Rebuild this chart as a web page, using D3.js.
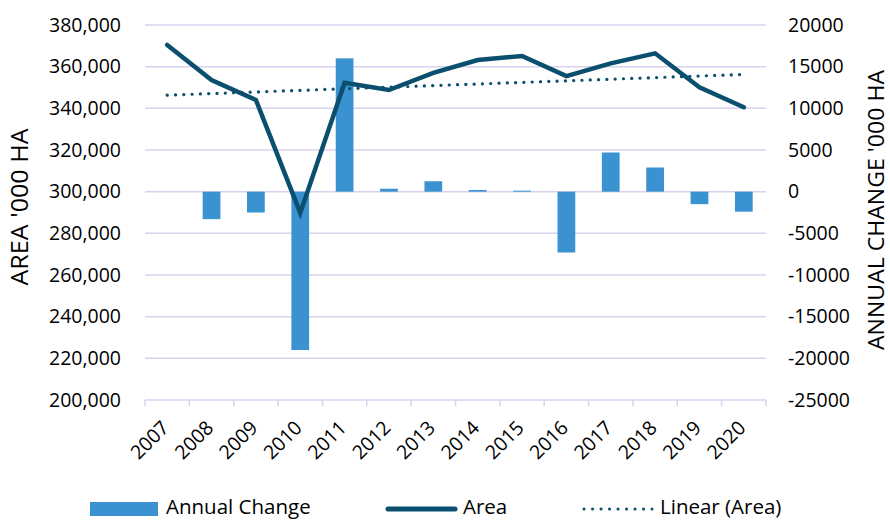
<!DOCTYPE html>
<html>
<head>
<meta charset="utf-8">
<script src="https://cdn.jsdelivr.net/npm/d3@7"></script>
<style>
  body { margin: 0; background: #fff; }
  svg text { font-family: "Open Sans", "Noto Sans", sans-serif; fill: #000; }
</style>
</head>
<body>
<svg id="chart" width="890" height="520"></svg>
<script>
var years = ["2007","2008","2009","2010","2011","2012","2013","2014","2015","2016","2017","2018","2019","2020"]
var area = [370400, 353600, 344000, 289800, 352300, 348800, 357000, 363200, 365100, 355500, 361600, 366400, 350100, 340500]
var annualChange = [null, -3300, -2500, -19000, 16000, 350, 1250, 200, 120, -7300, 4700, 2900, -1500, -2400]
var leftTicks = [200000, 220000, 240000, 260000, 280000, 300000, 320000, 340000, 360000, 380000]
var rightTicks = [-25000, -20000, -15000, -10000, -5000, 0, 5000, 10000, 15000, 20000]

var width = 890, height = 520
var margin = {left: 145, right: 124, top: 25, bottom: 120}
var gridColor = "#d8d2ee", barColor = "#3a93d0", lineColor = "#0b4f6e"

var svg = d3.select("#chart")

var x = d3.scaleBand().domain(years)
    .range([margin.left, width - margin.right]).paddingInner(0.6).paddingOuter(0.3)
var xc = d => x(d) + x.bandwidth() / 2
var yL = d3.scaleLinear().domain([200000, 380000]).range([height - margin.bottom, margin.top])
var yR = d3.scaleLinear().domain([-25000, 20000]).range([height - margin.bottom, margin.top])

// gridlines
svg.append("g").selectAll("line").data(leftTicks).enter().append("line")
    .attr("x1", margin.left).attr("x2", width - margin.right)
    .attr("y1", d => yL(d)).attr("y2", d => yL(d))
    .attr("stroke", gridColor).attr("stroke-width", 1.5)

// bottom ticks at category boundaries
var step = (width - margin.right - margin.left) / years.length
var bounds = d3.range(years.length + 1).map(i => margin.left + i * step)
svg.append("g").selectAll("line").data(bounds).enter().append("line")
    .attr("x1", d => d).attr("x2", d => d)
    .attr("y1", yL(200000)).attr("y2", yL(200000) + 6)
    .attr("stroke", gridColor).attr("stroke-width", 1.5)

// left axis labels
var fmt = d3.format(",")
svg.append("g").selectAll("text").data(leftTicks).enter().append("text")
    .attr("x", 121).attr("y", d => yL(d)).attr("dy", "0.35em")
    .attr("text-anchor", "end").attr("font-size", 19.5)
    .text(d => fmt(d))

// right axis labels
svg.append("g").selectAll("text").data(rightTicks).enter().append("text")
    .attr("x", 788).attr("y", d => yR(d)).attr("dy", "0.35em")
    .attr("text-anchor", "start").attr("font-size", 19.5)
    .text(d => d)

// axis titles
svg.append("text")
    .attr("transform", `translate(${28},${207}) rotate(-90)`)
    .attr("text-anchor", "middle").attr("font-size", 23)
    .attr("textLength", 157).attr("lengthAdjust", "spacingAndGlyphs")
    .text("AREA '000 HA")
svg.append("text")
    .attr("transform", `translate(${884},${210}) rotate(-90)`)
    .attr("text-anchor", "middle").attr("font-size", 22)
    .attr("textLength", 280).attr("lengthAdjust", "spacingAndGlyphs")
    .text("ANNUAL CHANGE '000 HA")

// x labels
svg.append("g").selectAll("text").data(years).enter().append("text")
    .attr("transform", d => `translate(${xc(d) + 3},${yL(200000) + 29}) rotate(-45)`)
    .attr("text-anchor", "end").attr("font-size", 19.5)
    .text(d => d)

// bars
var barData = years.map((y, i) => ({year: y, v: annualChange[i]})).filter(d => d.v !== null)
svg.append("g").selectAll("rect").data(barData).enter().append("rect")
    .attr("x", d => x(d.year)).attr("width", x.bandwidth())
    .attr("y", d => yR(Math.max(0, d.v)))
    .attr("height", d => Math.abs(yR(d.v) - yR(0)))
    .attr("fill", barColor)

// linear trend of area (least squares)
var idx = d3.range(years.length)
var mx = d3.mean(idx), my = d3.mean(area)
var slope = d3.sum(idx, i => (i - mx) * (area[i] - my)) / d3.sum(idx, i => (i - mx) * (i - mx))
var trend = idx.map(i => my + slope * (i - mx))

svg.append("path")
    .datum(trend)
    .attr("d", d3.line().x((d, i) => xc(years[i])).y(d => yL(d)))
    .attr("fill", "none").attr("stroke", lineColor).attr("stroke-width", 3.2)
    .attr("stroke-linecap", "round").attr("stroke-dasharray", "0.1 8.2")

// area line
svg.append("path")
    .datum(area)
    .attr("d", d3.line().x((d, i) => xc(years[i])).y(d => yL(d)))
    .attr("fill", "none").attr("stroke", lineColor).attr("stroke-width", 4.5)
    .attr("stroke-linejoin", "miter").attr("stroke-linecap", "round")

// legend
var lg = svg.append("g")
lg.append("rect").attr("x", 90).attr("y", 502).attr("width", 68).attr("height", 14).attr("fill", barColor)
lg.append("text").attr("x", 166).attr("y", 514).attr("font-size", 20.5).text("Annual Change")
lg.append("line").attr("x1", 388).attr("x2", 455).attr("y1", 509).attr("y2", 509)
    .attr("stroke", lineColor).attr("stroke-width", 5).attr("stroke-linecap", "round")
lg.append("text").attr("x", 463).attr("y", 514).attr("font-size", 20.5).text("Area")
lg.append("line").attr("x1", 584).attr("x2", 652).attr("y1", 509).attr("y2", 509)
    .attr("stroke", lineColor).attr("stroke-width", 3).attr("stroke-linecap", "round")
    .attr("stroke-dasharray", "0.1 8.4")
lg.append("text").attr("x", 660).attr("y", 514).attr("font-size", 20.5).text("Linear (Area)")
</script>
</body>
</html>
